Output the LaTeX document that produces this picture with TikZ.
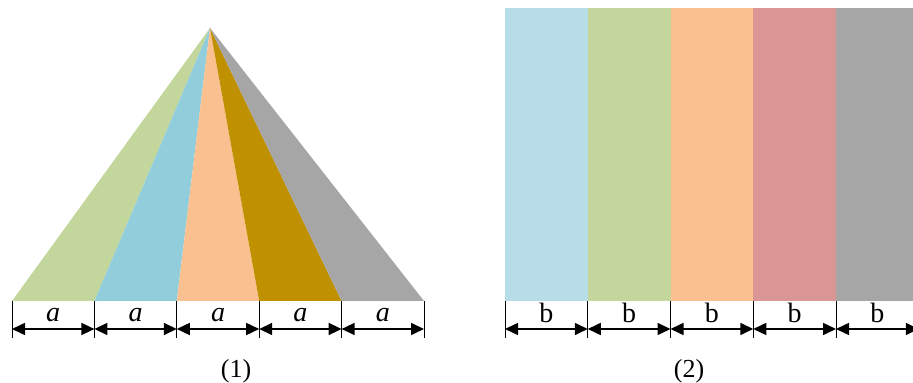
\documentclass[tikz,border=0pt]{standalone}
\usepackage{fontspec}
\setmainfont{Liberation Serif}
\usetikzlibrary{arrows.meta}

\definecolor{verde}{HTML}{C3D69B}
\definecolor{azzurro}{HTML}{92CDDC}
\definecolor{celeste}{HTML}{B7DEE8}
\definecolor{pesca}{HTML}{FAC090}
\definecolor{ocra}{HTML}{BF9000}
\definecolor{rosa}{HTML}{D99694}
\definecolor{grigio}{HTML}{A6A6A6}

\tikzset{
  quota/.style={line width=0.8pt, {Triangle[length=6.5pt,width=6pt]}-{Triangle[length=6.5pt,width=6pt]}},
  tacca/.style={line width=0.5pt},
  etichetta/.style={font=\fontsize{14}{16}\selectfont, inner sep=0pt},
  didascalia/.style={font=\fontsize{13}{15}\selectfont, inner sep=0pt}
}

\begin{document}
\begin{tikzpicture}[x=0.5pt,y=-0.5pt]
  \useasboundingbox (0,0) rectangle (913,383);
  \clip (0,0) rectangle (913,383);

  % triangolo
  \coordinate (apice) at (210,28);
  \foreach \i/\c in {0/verde,1/azzurro,2/pesca,3/ocra,4/grigio}
    \fill[\c] (apice) -- ({12+82.4*\i},301) -- ({12+82.4*(\i+1)},301) -- cycle;

  % quote a
  \foreach \i in {0,...,5} {
    \coordinate (ta\i) at ({12+82.4*\i},329);
    \draw[tacca] ({12+82.4*\i},301) -- ({12+82.4*\i},338);
  }
  \foreach \i [evaluate=\i as \j using int(\i+1)] in {0,...,4} {
    \draw[quota] (ta\i) -- (ta\j);
    \node[etichetta] (la\i) at ({53.2+82.4*\i},315) {\textit{a}};
  }

  % rettangoli
  \foreach \i/\c in {0/celeste,1/verde,2/pesca,3/rosa,4/grigio}
    \fill[\c] ({505+82.75*\i},8) rectangle ({505+82.75*(\i+1)},301);

  % quote b
  \foreach \i in {0,...,5} {
    \coordinate (tb\i) at ({505+82.75*\i},329);
    \draw[tacca] ({505+82.75*\i},301) -- ({505+82.75*\i},338);
  }
  \foreach \i [evaluate=\i as \j using int(\i+1)] in {0,...,4} {
    \draw[quota] (tb\i) -- (tb\j);
    \node[etichetta] (lb\i) at ({546.4+82.75*\i},313) {b};
  }

  % didascalie
  \node[didascalia] (d1) at (236,371) {(1)};
  \node[didascalia] (d2) at (689,371) {(2)};
\end{tikzpicture}
\end{document}
